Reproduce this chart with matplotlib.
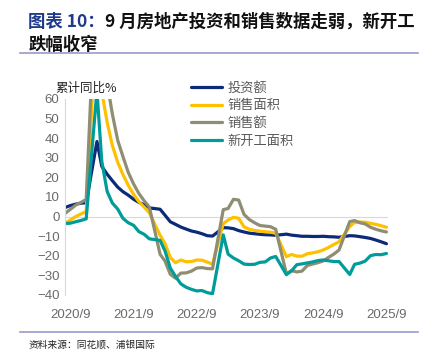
import pandas as pd
import matplotlib.pyplot as plt
import matplotlib.dates as mdates

plt.rcParams['font.family'] = ['Noto Sans CJK SC', 'DejaVu Sans']

# monthly cumulative YoY (%), Jan is merged into Feb so it is skipped
months = [m for m in pd.date_range('2020-08-01', '2025-09-01', freq='MS') if m.month != 1]

invest = [4.6, 5.6, 6.3, 6.8, 7.0,
          38.3, 25.6, 21.6, 18.3, 15.0, 12.7, 10.9, 8.8, 7.2, 6.0, 4.4,
          3.7, 0.7, -2.7, -4.0, -5.4, -6.4, -7.4, -8.0, -8.8, -9.8, -10.0,
          -5.7, -5.8, -6.2, -7.2, -7.9, -8.5, -8.8, -9.1, -9.3, -9.4, -9.6,
          -9.0, -9.5, -9.8, -10.1, -10.1, -10.2, -10.2, -10.1, -10.3, -10.4, -10.6,
          -9.8, -9.9, -10.3, -10.7, -11.2, -12.0, -12.9, -13.9]
sales_area = [-3.3, -1.8, 0.0, 1.3, 2.6,
              104.9, 63.8, 48.1, 36.3, 27.7, 21.5, 15.9, 11.3, 7.6, 4.8, 1.9,
              -9.6, -13.8, -20.9, -23.6, -22.2, -23.1, -23.0, -22.2, -22.3, -23.3, -24.3,
              -3.6, -1.8, -0.4, -0.9, -5.3, -6.5, -7.1, -7.5, -7.8, -8.0, -8.5,
              -20.5, -19.4, -20.2, -20.3, -19.0, -18.6, -18.0, -17.1, -15.8, -14.3, -12.9,
              -5.1, -3.0, -2.8, -2.9, -3.5, -4.0, -4.7, -5.5]
sales_amt = [1.6, 3.7, 5.8, 7.2, 8.7,
             133.4, 88.5, 68.2, 52.4, 38.9, 30.7, 22.5, 16.6, 11.8, 8.0, 4.8,
             -19.3, -22.7, -29.5, -31.5, -28.9, -28.8, -27.9, -26.3, -26.1, -26.6, -26.7,
             3.5, 4.1, 8.8, 8.4, 1.1, -1.5, -3.2, -4.6, -4.9, -5.2, -6.5,
             -29.3, -27.6, -28.3, -27.9, -25.0, -24.3, -23.6, -22.7, -20.9, -19.2, -17.1,
             -2.6, -2.1, -3.2, -3.8, -5.5, -6.5, -7.3, -7.9]
new_start = [-3.6, -3.4, -2.7, -2.0, -1.2,
             64.3, 28.2, 12.8, 6.9, 3.8, -0.9, -3.2, -4.5, -7.7, -9.1, -11.4,
             -12.2, -17.5, -26.3, -30.6, -34.4, -36.1, -37.2, -38.0, -37.8, -38.9, -39.4,
             -9.4, -19.2, -21.2, -22.6, -24.3, -24.5, -24.4, -23.4, -23.2, -21.2, -20.4,
             -29.7, -27.8, -24.6, -24.2, -23.7, -23.2, -22.5, -22.2, -22.6, -23.0, -23.0,
             -29.6, -24.4, -23.8, -22.8, -20.0, -19.4, -19.5, -18.9]

names = ['投资额', '销售面积', '销售额', '新开工面积']
colors = ['#0B2A78', '#FFC000', '#8F8D72', '#009C99']
yticks = list(range(-40, 61, 10))
xticks = [pd.Timestamp(f'{y}-09-01') for y in range(2020, 2026)]

fig = plt.figure(figsize=(4.34, 3.6), dpi=100)
ax = fig.add_axes([0.150, 0.181, 0.744, 0.544])

for vals, name, c in zip([invest, sales_area, sales_amt, new_start], names, colors):
    ax.plot(months, vals, color=c, lw=2.3, label=name, solid_capstyle='round')

ax.set_ylim(-40, 60)
ax.set_xlim(pd.Timestamp('2020-08-01'), pd.Timestamp('2025-09-10'))
ax.set_yticks(yticks)
ax.set_xticks(xticks)
ax.xaxis.set_major_formatter(mdates.DateFormatter('%Y/%-m'))
ax.axhline(0, color='#D9D9D9', lw=0.8, zorder=0)
for s in ['top', 'right', 'bottom']:
    ax.spines[s].set_visible(False)
ax.spines['left'].set_color('#D9D9D9')
ax.tick_params(length=0, labelsize=9.5, colors='#6A6A6A', pad=4)
ax.tick_params(axis='x', pad=10)
for lab in ax.get_xticklabels() + ax.get_yticklabels():
    lab.set_family('Liberation Sans')

leg = ax.legend(loc='upper left', bbox_to_anchor=(0.375, 1.115), frameon=False,
                fontsize=9.5, handlelength=2.3, labelspacing=0.35, handletextpad=0.4,
                borderaxespad=0.0)
for t in leg.get_texts():
    t.set_color('#595959')

fig.text(0.127, 0.745, '累计同比%', fontsize=9, color='#222222')

# title in two colours
fig.canvas.draw()
r = fig.canvas.get_renderer()
t1 = fig.text(0.065, 0.925, '图表 10：', fontsize=12.5, fontweight='bold', color='#1F3A8A')
bb = t1.get_window_extent(r)
fig.text(bb.x1 / fig.bbox.width, 0.925, '9 月房地产投资和销售数据走弱，新开工',
         fontsize=12.5, fontweight='bold', color='#111111')
fig.text(0.065, 0.86, '跌幅收窄', fontsize=12.5, fontweight='bold', color='#111111')
fig.add_artist(plt.Line2D([0.045, 0.962], [0.852, 0.852], color='#9A9AD0', lw=1.2))
fig.add_artist(plt.Line2D([0.045, 0.962], [0.078, 0.078], color='#9A9AD0', lw=1.2))
fig.text(0.065, 0.035, '资料来源：同花顺、浦银国际', fontsize=7, color='#222222')

fig.savefig('out.png', dpi=100)
